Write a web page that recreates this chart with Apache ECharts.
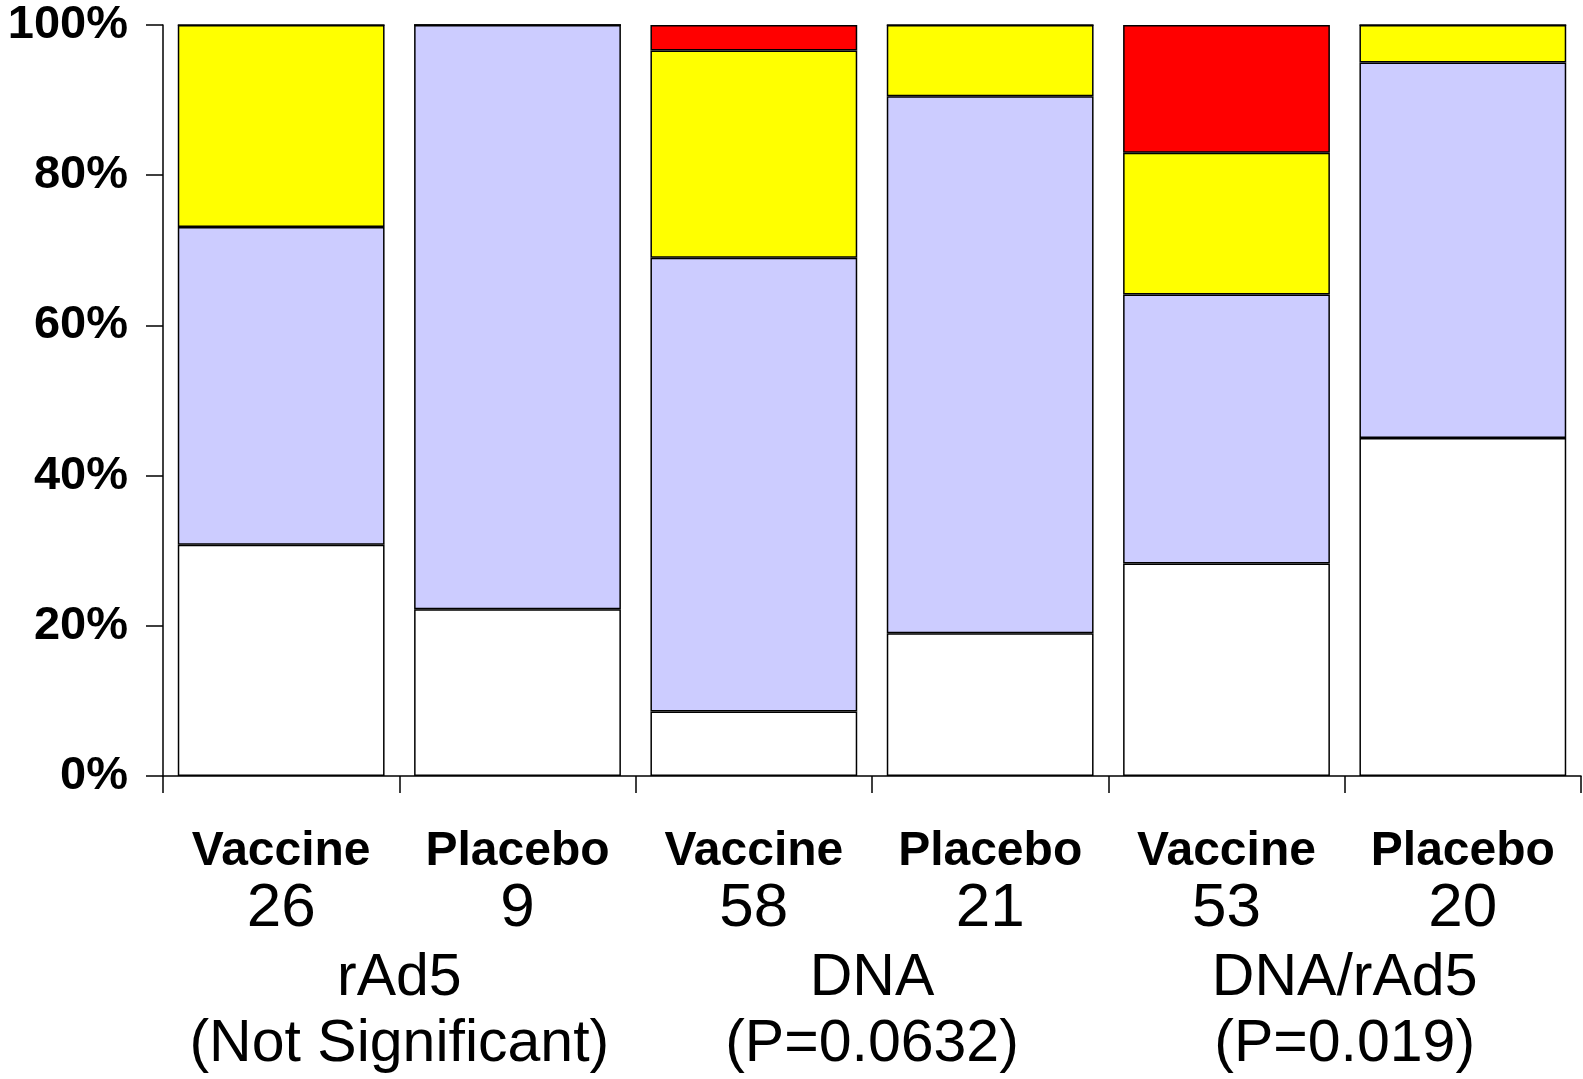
<!DOCTYPE html>
<html>
<head>
<meta charset="utf-8">
<title>Vaccine vs Placebo</title>
<script src="https://cdn.jsdelivr.net/npm/echarts@6/dist/echarts.min.js"></script>
<style>
  html, body { margin: 0; padding: 0; background: #fff; }
  #chart { width: 1583px; height: 1079px; }
</style>
</head>
<body>
<div id="chart"></div>
<script>
// categories
var arms = ['Vaccine', 'Placebo', 'Vaccine', 'Placebo', 'Vaccine', 'Placebo'];
var counts = ['26', '9', '58', '21', '53', '20'];
var groups = ['rAd5\n(Not Significant)', 'DNA\n(P=0.0632)', 'DNA/rAd5\n(P=0.019)'];

// percent of each bar, bottom to top
var whiteVals = [30.8, 22.2, 8.6, 19.0, 28.3, 45.0];
var lavenderVals = [42.3, 77.8, 60.4, 71.5, 35.8, 50.0];
var yellowVals = [26.9, 0, 27.6, 9.5, 18.9, 5.0];
var redVals = [0, 0, 3.4, 0, 17.0, 0];

var fontFam = 'Arial, "Liberation Sans", sans-serif';

var chart = echarts.init(document.getElementById('chart'));

function barSeries(name, data, color) {
  return {
    name: name,
    type: 'bar',
    stack: 'total',
    barCategoryGap: '12.5%',
    data: data,
    itemStyle: {
      color: color,
      borderColor: '#000',
      borderWidth: 1.5,
    },
    animation: false,
  };
}

var option = {
  backgroundColor: '#fff',
  grid: {
    left: 163,
    right: 2,
    top: 25,
    bottom: 303,
    containLabel: false,
    outerBoundsMode: 'none',
  },
  xAxis: [
    {
      type: 'category',
      data: arms,
      axisLine: { lineStyle: { color: '#000', width: 1.5 } },
      axisTick: { show: true, length: 17, lineStyle: { color: '#000', width: 1.5 } },
      axisLabel: {
        margin: 49,
        interval: 0,
        formatter: function (val, idx) {
          return '{b|' + val + '}\n{n|' + counts[idx] + '}';
        },
        rich: {
          b: { fontFamily: fontFam, fontWeight: 'bold', fontSize: 48, lineHeight: 54, color: '#000' },
          n: { fontFamily: fontFam, fontSize: 62, lineHeight: 60, color: '#000' },
        },
      },
    },
    {
      // group labels under each vaccine/placebo pair
      type: 'category',
      data: groups,
      position: 'bottom',
      axisLine: { show: false },
      axisTick: { show: false },
      axisLabel: {
        margin: 170,
        interval: 0,
        fontFamily: fontFam,
        fontSize: 59,
        lineHeight: 66,
        color: '#000',
      },
    },
  ],
  yAxis: {
    type: 'value',
    min: 0,
    max: 100,
    interval: 20,
    splitLine: { show: false },
    axisLine: { show: true, lineStyle: { color: '#000', width: 1.5 } },
    axisTick: { show: true, length: 17, lineStyle: { color: '#000', width: 1.5 } },
    axisLabel: {
      margin: 35,
      formatter: '{value}%',
      fontFamily: fontFam,
      fontWeight: 'bold',
      fontSize: 47,
      color: '#000',
    },
  },
  series: [
    barSeries('white', whiteVals, '#ffffff'),
    barSeries('lavender', lavenderVals, '#ccccff'),
    barSeries('yellow', yellowVals, '#ffff00'),
    barSeries('red', redVals, '#ff0000'),
  ],
};

chart.setOption(option);
</script>
</body>
</html>
